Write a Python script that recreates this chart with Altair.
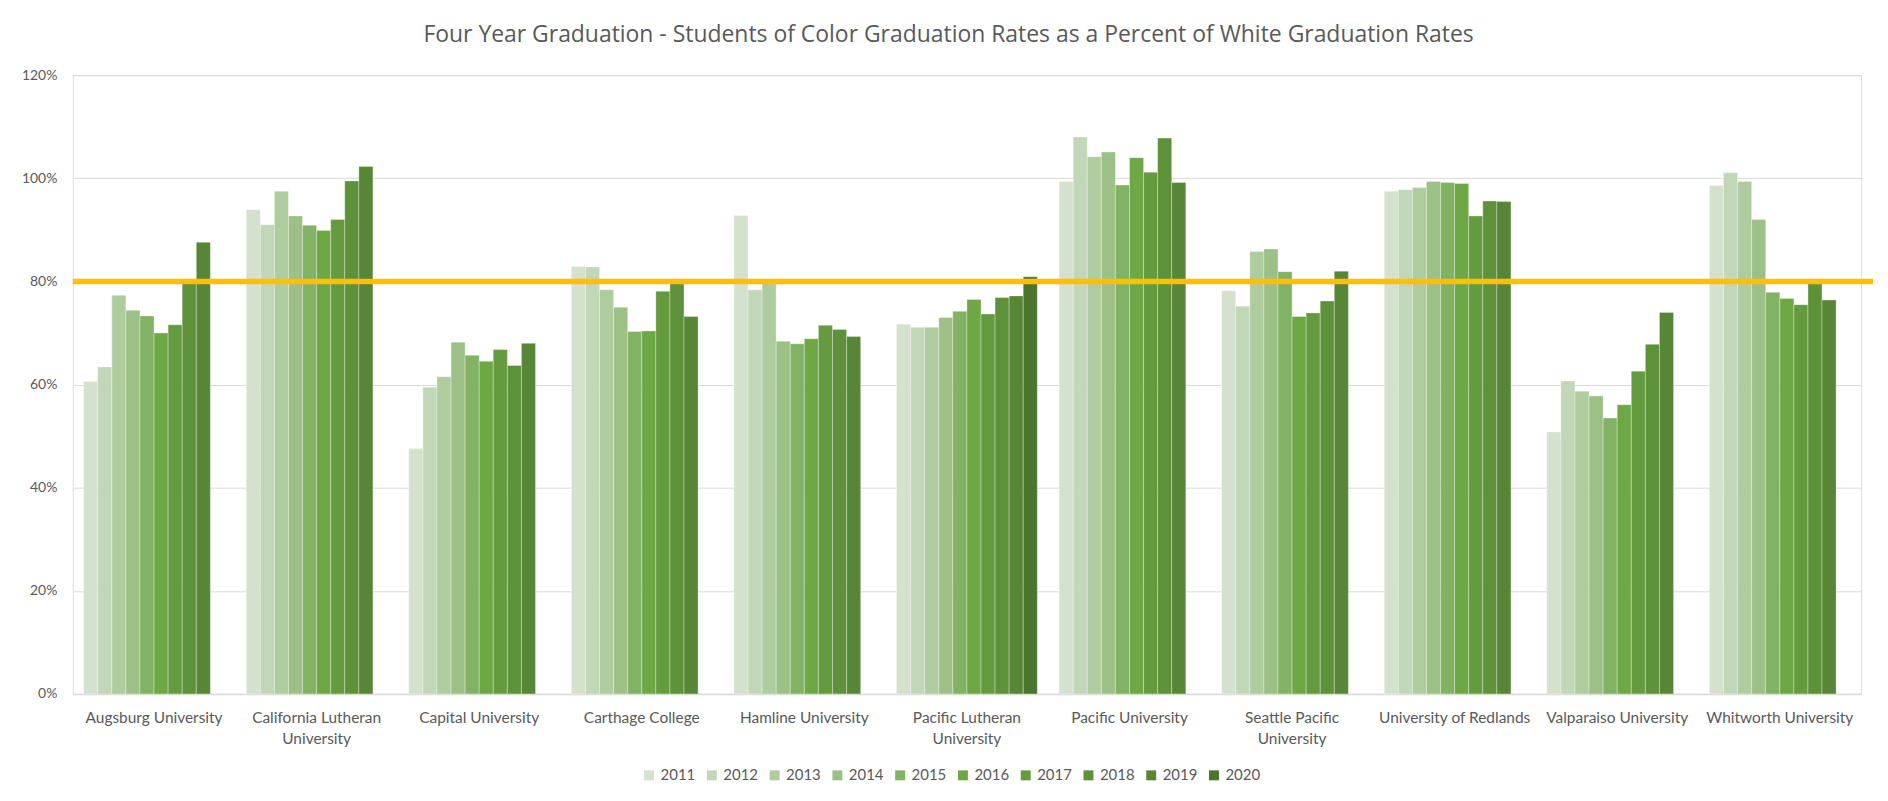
import altair as alt
import pandas as pd

universities = [
    "Augsburg University",
    "California Lutheran University",
    "Capital University",
    "Carthage College",
    "Hamline University",
    "Pacific Lutheran University",
    "Pacific University",
    "Seattle Pacific University",
    "University of Redlands",
    "Valparaiso University",
    "Whitworth University",
]
label_lines = {
    "California Lutheran University": ["California Lutheran", "University"],
    "Pacific Lutheran University": ["Pacific Lutheran", "University"],
    "Seattle Pacific University": ["Seattle Pacific", "University"],
}
years = ["2011", "2012", "2013", "2014", "2015", "2016", "2017", "2018", "2019", "2020"]

# percent values, 2011 .. 2020 (None = no bar)
augsburg = [60.6, 63.4, 77.3, 74.4, 73.3, 70.0, 71.6, 79.8, 87.6, None]
cal_lutheran = [93.9, 91.0, 97.5, 92.7, 90.9, 89.9, 92.0, 99.5, 102.3, None]
capital = [47.6, 59.5, 61.5, 68.2, 65.7, 64.5, 66.8, 63.7, 68.0, None]
carthage = [82.9, 82.8, 78.4, 75.0, 70.3, 70.4, 78.1, 79.6, 73.2, None]
hamline = [92.8, 78.4, 79.8, 68.4, 67.9, 68.9, 71.5, 70.7, 69.3, None]
pacific_lutheran = [71.7, 71.1, 71.1, 73.0, 74.2, 76.5, 73.7, 76.9, 77.2, 80.9]
pacific = [99.4, 108.0, 104.2, 105.1, 98.7, 104.0, 101.2, 107.8, 99.2, None]
seattle_pacific = [78.2, 75.2, 85.8, 86.3, 81.9, 73.2, 73.9, 76.2, 82.0, None]
redlands = [97.5, 97.8, 98.2, 99.4, 99.2, 99.0, 92.7, 95.6, 95.5, None]
valparaiso = [50.8, 60.7, 58.7, 57.8, 53.5, 56.1, 62.6, 67.8, 74.0, None]
whitworth = [98.6, 101.1, 99.4, 92.0, 77.9, 76.7, 75.5, 80.0, 76.4, None]

series = [augsburg, cal_lutheran, capital, carthage, hamline, pacific_lutheran,
          pacific, seattle_pacific, redlands, valparaiso, whitworth]

target = [0.8]

colors = ["#d3e1cd", "#c2d7b8", "#afcc9f", "#9dc087", "#82b263",
          "#6ea845", "#659b3f", "#5e923a", "#578736", "#4a752e"]

rows = []
for uni, vals in zip(universities, series):
    for yr, v in zip(years, vals):
        if v is not None:
            rows.append({"university": uni, "year": yr, "value": v / 100.0})
df = pd.DataFrame(rows)
target_df = pd.DataFrame({"target": target})

expr = "datum.label"
for k, v in label_lines.items():
    expr = f"datum.label == '{k}' ? ['{v[0]}', '{v[1]}'] : (" + expr + ")"

W = 1795
H = 621
FONT = "Lato"
TXT = "#595959"

bars = alt.Chart(df).mark_bar(stroke="white", strokeWidth=0.7, strokeOpacity=0.45).encode(
    x=alt.X(
        "university:N",
        sort=universities,
        scale=alt.Scale(domain=universities, paddingInner=0.134, paddingOuter=0.067),
        axis=alt.Axis(
            title=None,
            labelAngle=0,
            labelExpr=expr,
            labelFont=FONT,
            labelFontSize=15.5,
            labelColor=TXT,
            labelPadding=17,
            labelLineHeight=21,
            labelOverlap=False,
            labelLimit=300,
            ticks=False,
            domainColor="#d9d9d9",
            domainWidth=1.5,
            grid=False,
        ),
    ),
    xOffset=alt.XOffset("year:N", scale=alt.Scale(domain=years, paddingInner=0, paddingOuter=0)),
    y=alt.Y(
        "value:Q",
        scale=alt.Scale(domain=[0, 1.2], nice=False),
        axis=alt.Axis(
            title=None,
            format=".0%",
            values=[0, 0.2, 0.4, 0.6, 0.8, 1.0, 1.2],
            ticks=False,
            domain=False,
            gridColor="#d9d9d9",
            gridWidth=1,
            labelFont=FONT,
            labelFontSize=14,
            labelColor=TXT,
            labelPadding=16,
        ),
    ),
    color=alt.Color(
        "year:N",
        title=None,
        scale=alt.Scale(domain=years, range=colors),
        legend=alt.Legend(
            orient="none",
            legendX=571,
            legendY=695,
            direction="horizontal",
            columns=10,
            symbolType="square",
            symbolSize=100,
            symbolStrokeWidth=0,
            labelFont=FONT,
            labelFontSize=15,
            labelColor=TXT,
            labelOffset=4,
            columnPadding=9,
        ),
    ),
)

rule = alt.Chart(target_df).mark_rule(color="#FFC000", strokeWidth=5.5).encode(
    y=alt.Y("target:Q"),
    x=alt.value(0),
    x2=alt.value(W + 12),
)

chart = alt.layer(bars, rule).properties(
    width=W,
    height=H,
    title=alt.TitleParams(
        text="Four Year Graduation - Students of Color Graduation Rates as a Percent of White Graduation Rates",
        font="Open Sans",
        fontSize=23,
        fontWeight="normal",
        color=TXT,
        anchor="middle",
        frame="bounds",
        offset=21,
    ),
    padding={"left": 13, "top": 15, "right": 4, "bottom": 8},
).configure_view(strokeWidth=0).configure(background="white")

chart.save("out.html", embed_options={"renderer": "svg", "actions": False})
